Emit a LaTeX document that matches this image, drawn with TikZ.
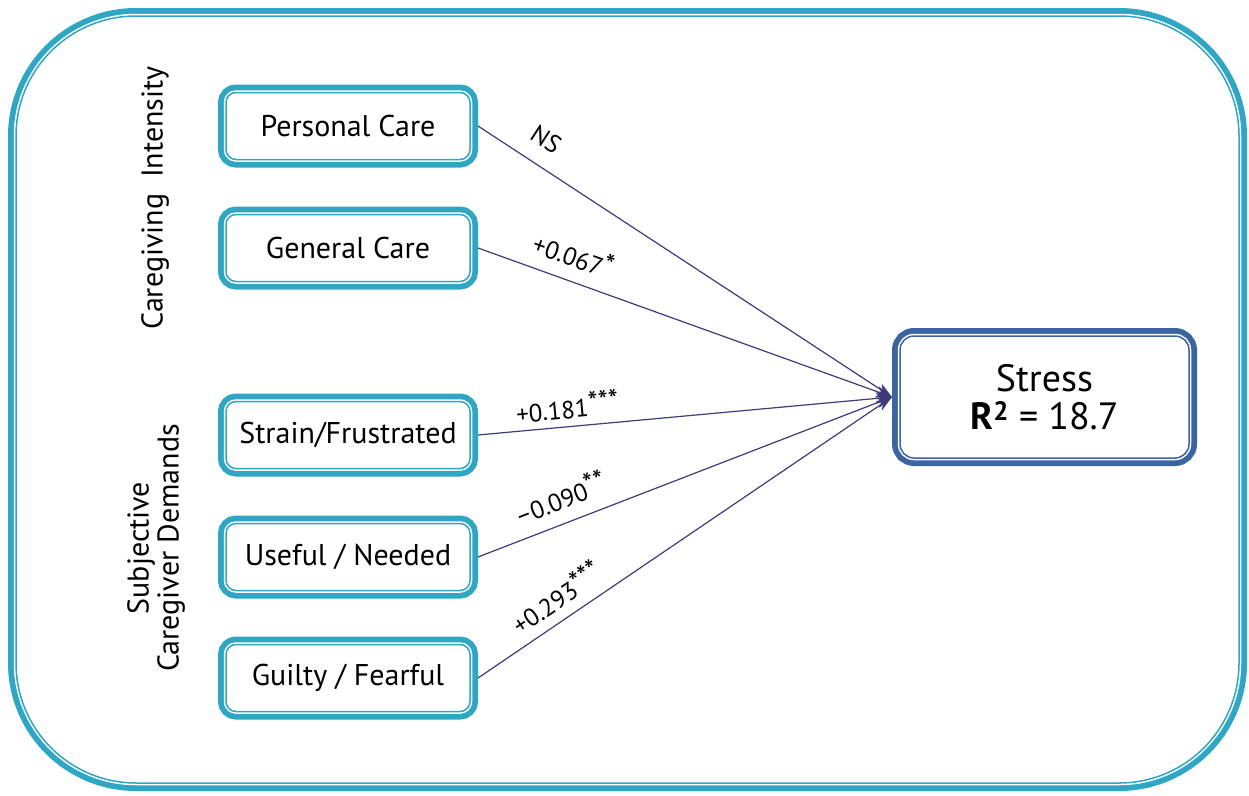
\documentclass[tikz,border=0pt]{standalone}
\usepackage{fontspec}
\setmainfont{PT Sans}
\usetikzlibrary{arrows.meta}
\definecolor{framecyan}{RGB}{46,166,196}
\definecolor{stressblue}{RGB}{60,100,160}
\definecolor{linkcol}{RGB}{62,60,120}
% raised significance stars
\newcommand{\sigstars}[1]{\raisebox{0.3ex}{\fontsize{29}{29}\selectfont #1}}
\begin{document}
\begin{tikzpicture}[x=1pt,y=-1pt,
  dbl/.style={fill=white, draw=#1, line width=1.5pt,
    preaction={draw=#1, line width=16pt},
    preaction={draw=white, line width=4.5pt}},
  factor/.style={dbl=framecyan, rounded corners=10pt,
    minimum width=244pt, minimum height=67pt, inner sep=0pt, outer sep=8pt,
    font=\fontsize{30}{34}\selectfont},
  outcome/.style={dbl=stressblue, rounded corners=14pt,
    minimum width=289pt, minimum height=122pt, inner sep=0pt, outer sep=8pt,
    align=center, font=\fontsize{38}{42}\selectfont},
  side/.style={rotate=90, align=center, font=\fontsize{30}{30}\selectfont},
  conn/.style={draw=linkcol, line width=1.2pt,
    -{Stealth[length=16pt, width=11pt, inset=5pt]}},
  coef/.style={sloped, above=4pt, font=\fontsize{25}{28}\selectfont}]
\useasboundingbox (0,0) rectangle (1249,795);

% outer frame
\draw[dbl=framecyan, rounded corners=120pt] (16,16) rectangle (1239,783);

% group labels
\node[side] (gi) at (155,198) {Caregiving\ \ Intensity};
\node[side] (gs) at (156,548) {Subjective\\Caregiver Demands};

% predictor boxes
\node[factor] (pc) at (348,126) {Personal Care};
\node[factor] (gc) at (348,248) {General Care};
\node[factor] (sf) at (348,435) {Strain/Frustrated};
\node[factor] (un) at (348,557) {Useful / Needed};
\node[factor] (gf) at (348,678) {Guilty / Fearful};

% outcome box
\node[outcome] (st) at (1044.5,397) {Stress\\[-4pt]\textbf{R\textsuperscript{2}} = 18.7};

% paths with coefficients
\draw[conn] (pc.east) -- node[coef, pos=0.13, above=9pt] {NS} (st.west);
\draw[conn] (gc.east) -- node[coef, pos=0.21, above=6pt] {+0.067\sigstars{*}} (st.west);
\draw[conn] (sf.east) -- node[coef, pos=0.22] {+0.181\sigstars{***}} (st.west);
\draw[conn] (un.east) -- node[coef, pos=0.22, above=6pt] {–0.090\sigstars{**}} (st.west);
\draw[conn] (gf.east) -- node[coef, pos=0.22, above=3pt] {+0.293\sigstars{***}} (st.west);
\end{tikzpicture}
\end{document}
